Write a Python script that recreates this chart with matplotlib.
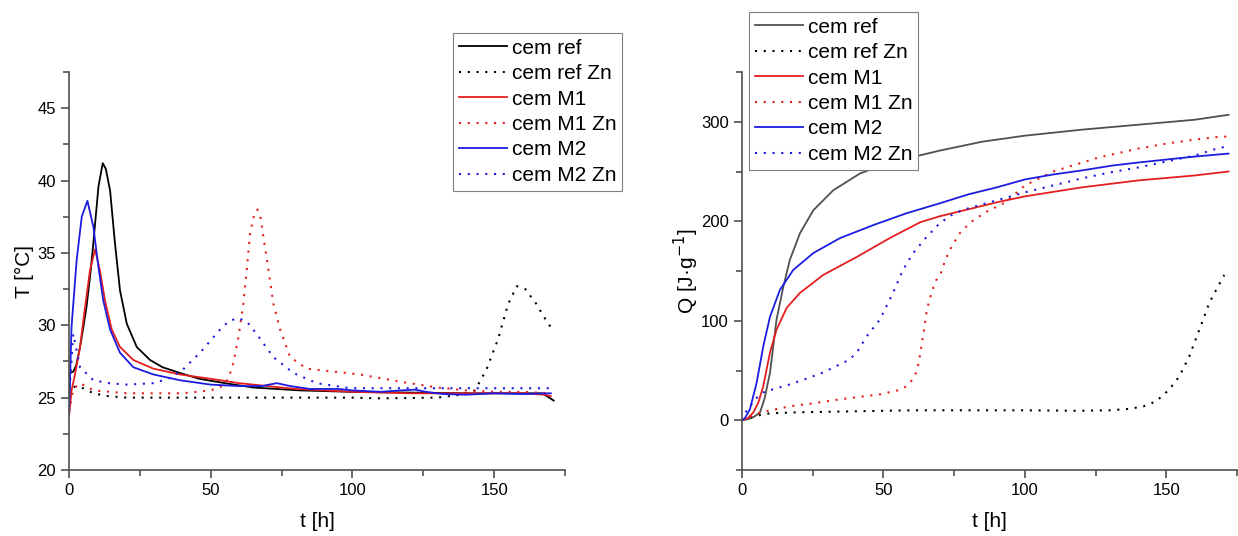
import matplotlib.pyplot as plt
from matplotlib.ticker import MultipleLocator

plt.rcParams['font.family'] = ['Liberation Sans', 'DejaVu Sans']

# --- temperature curves (left panel) ---
t_ref = [0, 0.3, 1.5, 2.5, 3.9, 5, 6.2, 7.5, 8.6, 10.4, 11.9, 13, 14.5, 16.2, 18, 20.4, 23.9, 28.6, 33,
         39.2, 46, 55, 65, 81.5, 100, 120, 140, 160, 167, 171]
T_ref = [24.0, 26.7, 26.8, 27.2, 28.5, 29.8, 31.3, 33.5, 35.7, 39.6, 41.2, 40.8, 39.3, 35.7, 32.4, 30.1, 28.5,
         27.6, 27.1, 26.7, 26.3, 26.0, 25.7, 25.5, 25.4, 25.35, 25.3, 25.3, 25.3, 24.8]

t_refzn = [0, 1, 3.9, 8.6, 14, 20.4, 40, 60, 80, 100, 110, 130, 138, 143.2, 147.2, 151.3, 155, 158, 161,
           164.8, 167.5, 170.2]
T_refzn = [25.3, 25.75, 25.75, 25.3, 25.1, 25.0, 25.0, 25.0, 25.0, 25.0, 24.95, 25.0, 25.2, 25.5, 26.9, 29.0,
           31.5, 32.7, 32.5, 31.5, 30.6, 29.8]

t_m1 = [0, 0.9, 2, 3.9, 5.1, 7.4, 9.2, 10.9, 12.7, 15.1, 18, 22.7, 29.8, 39.2, 50, 60, 70, 80, 100, 120,
        140, 160, 168, 170]
T_m1 = [23.7, 25.5, 26.5, 28.5, 30.4, 33.8, 35.25, 33.8, 31.7, 29.7, 28.5, 27.6, 27.0, 26.6, 26.3, 26.0,
        25.8, 25.6, 25.4, 25.3, 25.3, 25.3, 25.2, 25.1]

t_m1zn = [0, 1.5, 3.9, 8.6, 20.4, 40, 50, 54, 56.2, 58, 59.8, 61.5, 62.7, 63.9, 65.3, 66.5, 67.6, 68.6,
          70.4, 72.1, 74.5, 78, 83.9, 93.3, 102.7, 116.8, 130, 140, 150, 160, 170]
T_m1zn = [24.0, 25.6, 26.0, 25.5, 25.3, 25.3, 25.5, 25.8, 26.3, 27.4, 29.2, 31.5, 33.8, 36.4, 37.6, 38.0,
          37.4, 36.1, 33.8, 31.5, 29.7, 27.8, 27.0, 26.8, 26.6, 26.1, 25.7, 25.5, 25.4, 25.4, 25.3]

t_m2 = [0, 0.9, 2.7, 4.5, 6.5, 8.6, 10.4, 12.1, 14.5, 18, 22.7, 29.8, 39.2, 50, 60, 68, 73.3, 78, 85, 95,
        100, 110, 117, 122, 126, 132, 140, 150, 160, 170]
T_m2 = [23.8, 29.9, 34.5, 37.5, 38.6, 36.8, 34.0, 31.7, 29.7, 28.1, 27.1, 26.6, 26.2, 25.9, 25.8, 25.8,
        26.0, 25.8, 25.6, 25.6, 25.5, 25.4, 25.5, 25.55, 25.4, 25.25, 25.2, 25.3, 25.25, 25.3]

t_m2zn = [0, 1.5, 3.9, 8.6, 14, 20.4, 29.7, 35, 40, 46.2, 53.3, 56.5, 59.8, 63, 66.2, 72.1, 79.2, 87.4,
          99.2, 110, 130, 170]
T_m2zn = [25.0, 29.4, 27.1, 26.2, 26.0, 25.9, 26.0, 26.3, 26.9, 28.1, 29.7, 30.3, 30.5, 30.2, 29.4, 27.8,
          26.7, 26.0, 25.65, 25.65, 25.65, 25.65]

# --- heat curves (right panel) ---
tq_ref = [0, 2, 4, 6.35, 8, 9.9, 12.2, 14.6, 16.9, 20.5, 25.2, 32.2, 41.7, 52.2, 69.9, 85, 100, 120, 140,
          160, 172]
Q_ref = [0, 1, 3, 7.7, 22, 47.7, 101, 134, 161, 188, 211, 231, 248, 259, 271, 280, 286, 292, 297, 302, 307]

tq_refzn = [0, 3, 6, 10, 20, 40, 60, 80, 100, 119.3, 130, 137, 142, 146.4, 151.1, 154.6, 158.1, 161.7,
            165.2, 168, 170.5]
Q_refzn = [0, 3, 5, 7, 8, 9, 10, 10, 10, 9.5, 10, 11.5, 14, 19, 31, 44, 64, 91, 118, 133, 146]

tq_m1 = [0, 2, 4, 5.8, 7.5, 9.9, 12.2, 15.8, 20.5, 28.7, 40.5, 52.2, 63, 69.9, 80, 90, 100, 120, 140,
         160, 172]
Q_m1 = [0, 2, 7.7, 18, 34, 68, 91, 113, 128, 146, 164, 183, 199, 205, 212, 219, 225, 234, 241, 246, 250]

tq_m1zn = [0, 6.35, 16.9, 25, 34.6, 48.7, 55, 58.1, 60, 61.6, 62.5, 63.4, 64.3, 65.2, 66, 66.8, 67.7,
           68.7, 70.3, 72, 74.2, 77, 80.9, 86, 93.2, 100, 110, 126, 140, 150, 160, 169, 172]
Q_m1zn = [0, 7.7, 14, 17, 21, 26, 30, 34, 40, 48, 58, 74, 90, 108, 118, 126, 134, 141, 148, 162, 175, 188,
          199, 209, 219, 236, 250, 264, 273, 278, 282, 285, 285]

tq_m2 = [0, 1, 2.8, 5.2, 7.5, 9.9, 13.4, 18.1, 25.2, 34.6, 46.3, 58.1, 69.9, 80, 90, 100, 110, 120, 131,
         140, 150, 160, 172]
Q_m2 = [0, 2, 11, 38, 74, 104, 131, 151, 168, 183, 196, 208, 218, 227, 234, 242, 247, 251, 256, 259, 262,
        265, 268]

tq_m2zn = [0, 1, 2.8, 5, 7.5, 12, 16.9, 22, 28.7, 33, 38.1, 41, 44, 48.7, 53.4, 56.9, 60.5, 65.2, 69.9,
           75, 80, 90, 100, 110, 120, 130, 140, 150, 160, 169, 172]
Q_m2zn = [0, 7, 14, 22, 28, 32, 36, 41, 48, 54, 61, 70, 84, 101, 128, 151, 168, 184, 198, 208, 213, 221,
          229, 236, 243, 249, 254, 260, 266, 274, 275]

labels = ['cem ref', 'cem ref Zn', 'cem M1', 'cem M1 Zn', 'cem M2', 'cem M2 Zn']
red = '#e41e1e'
blue = '#1c1ce0'
dots = (0, (1, 3.2))

fig = plt.figure(figsize=(12.38, 5.36), dpi=100)
ax1 = fig.add_axes([69 / 1238, 1 - 470 / 536, (565 - 69) / 1238, (470 - 72) / 536])
ax2 = fig.add_axes([742 / 1238, 1 - 470 / 536, (1237 - 742) / 1238, (470 - 72) / 536])

ax1.plot(t_ref, T_ref, color='black', lw=1.3, label=labels[0])
ax1.plot(t_refzn, T_refzn, color='black', lw=1.5, ls=dots, label=labels[1])
ax1.plot(t_m1, T_m1, color=red, lw=1.3, label=labels[2])
ax1.plot(t_m1zn, T_m1zn, color=red, lw=1.5, ls=dots, label=labels[3])
ax1.plot(t_m2, T_m2, color=blue, lw=1.3, label=labels[4])
ax1.plot(t_m2zn, T_m2zn, color=blue, lw=1.5, ls=dots, label=labels[5])

ax2.plot(tq_ref, Q_ref, color='#505050', lw=1.3, label=labels[0])
ax2.plot(tq_refzn, Q_refzn, color='black', lw=1.5, ls=dots, label=labels[1])
ax2.plot(tq_m1, Q_m1, color=red, lw=1.3, label=labels[2])
ax2.plot(tq_m1zn, Q_m1zn, color=red, lw=1.5, ls=dots, label=labels[3])
ax2.plot(tq_m2, Q_m2, color=blue, lw=1.3, label=labels[4])
ax2.plot(tq_m2zn, Q_m2zn, color=blue, lw=1.5, ls=dots, label=labels[5])

ax1.set_xlim(0, 175)
ax1.set_ylim(20, 47.5)
ax1.xaxis.set_major_locator(MultipleLocator(50))
ax1.xaxis.set_minor_locator(MultipleLocator(25))
ax1.yaxis.set_major_locator(MultipleLocator(5))
ax1.yaxis.set_minor_locator(MultipleLocator(2.5))
ax1.set_xlabel('t [h]', fontsize=15, labelpad=10)
ax1.set_ylabel('T [°C]', fontsize=15, labelpad=2)

ax2.set_xlim(0, 175)
ax2.set_ylim(-50, 350)
ax2.xaxis.set_major_locator(MultipleLocator(50))
ax2.xaxis.set_minor_locator(MultipleLocator(25))
ax2.yaxis.set_major_locator(MultipleLocator(100))
ax2.yaxis.set_minor_locator(MultipleLocator(50))
ax2.set_xlabel('t [h]', fontsize=15, labelpad=10)
ax2.set_ylabel('Q [J·g$^{-1}$]', fontsize=15, labelpad=0)

for ax in (ax1, ax2):
    ax.spines['top'].set_visible(False)
    ax.spines['right'].set_visible(False)
    for s in ('left', 'bottom'):
        ax.spines[s].set_color('#505050')
        ax.spines[s].set_linewidth(1.2)
    ax.tick_params(which='major', direction='out', length=6, width=1.2, color='#505050', labelsize=12)
    ax.tick_params(which='minor', direction='out', length=4, width=1.2, color='#505050')

leg_kw = dict(fontsize=15, frameon=True, fancybox=False, framealpha=1, edgecolor='#808080',
              handlelength=2.3, labelspacing=0.31, borderpad=0.27, handletextpad=0.25, borderaxespad=0)
l1 = ax1.legend(loc='upper left', bbox_to_anchor=(453 / 1238, 1 - 33 / 536),
                bbox_transform=fig.transFigure, **leg_kw)
l2 = ax2.legend(loc='upper left', bbox_to_anchor=(749 / 1238, 1 - 12 / 536),
                bbox_transform=fig.transFigure, **leg_kw)
for l in (l1, l2):
    l.get_frame().set_linewidth(0.8)

fig.savefig('out.png', dpi=100)
